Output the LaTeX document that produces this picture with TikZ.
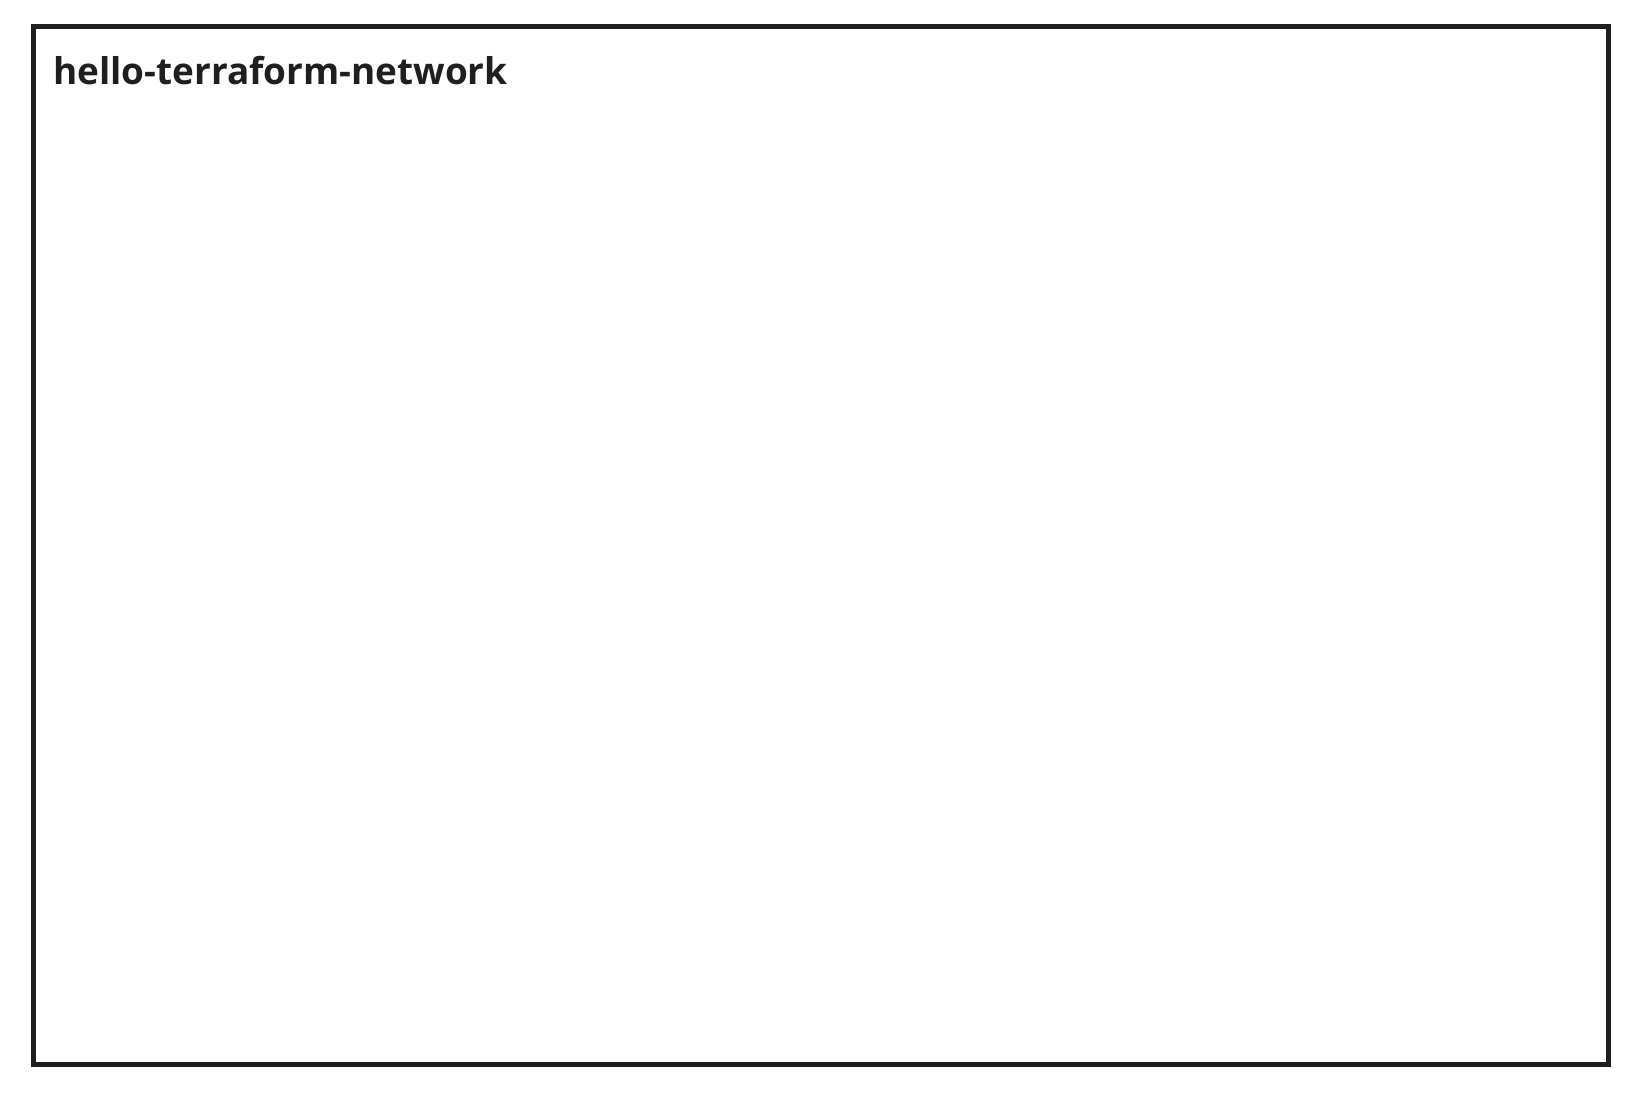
\documentclass[tikz,border=0pt]{standalone}
\usepackage{fontspec}
\setmainfont{Open Sans}
\usetikzlibrary{positioning}
\definecolor{framegray}{HTML}{1F1F1F}

\begin{document}
\begin{tikzpicture}[x=0.1mm,y=-0.1mm,
    netbox/.style={draw=framegray, line width=0.5mm, minimum width=157.55mm, minimum height=103.8mm, inner sep=0pt},
    nettitle/.style={text=framegray, font=\fontsize{10.5}{12}\selectfont\bfseries, inner sep=0pt}]
  \useasboundingbox (0,0) rectangle (1640,1104);
  \node [netbox] (net) at (820.75,545.5) {};
  \node [nettitle, below right=3.15mm and 2.2mm of net.north west] (title) {hello-terraform-network};
\end{tikzpicture}
\end{document}
